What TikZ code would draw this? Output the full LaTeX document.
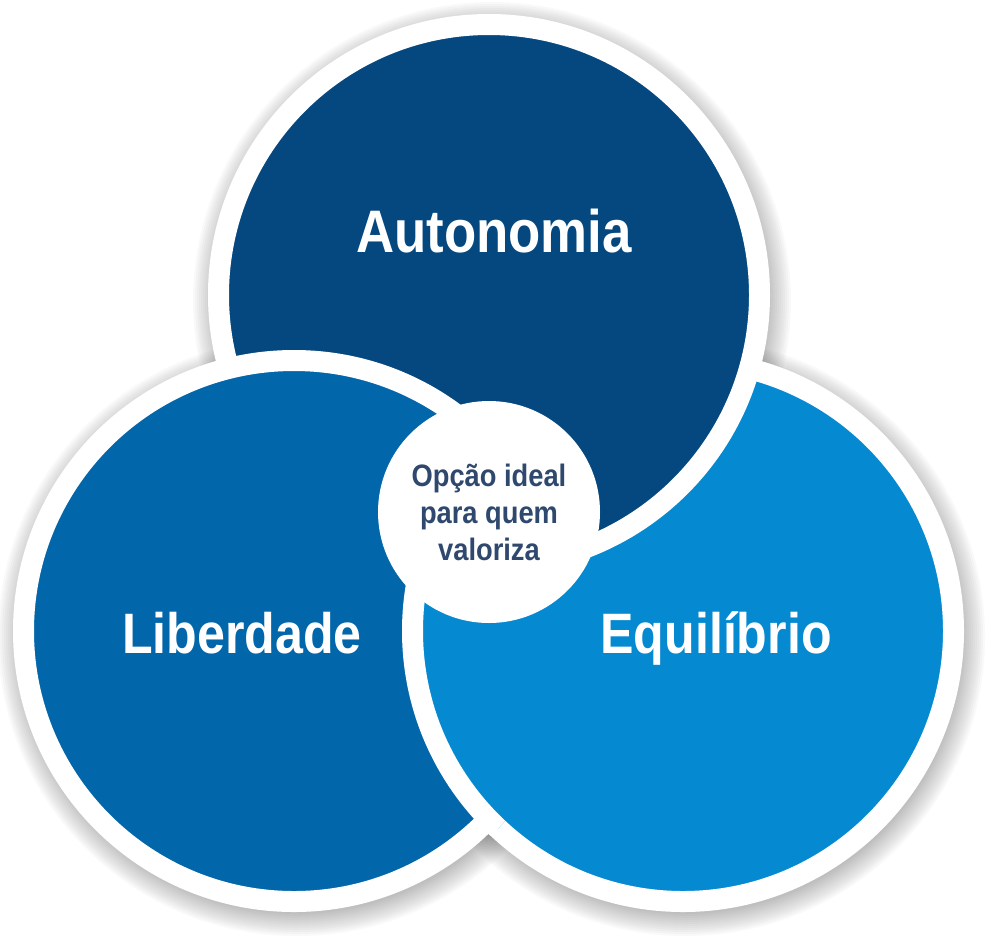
\documentclass[tikz,border=0pt]{standalone}
\usepackage{fontspec}
\newfontfamily\diagfont[FakeStretch=0.88]{Liberation Sans}
\usetikzlibrary{positioning}
\definecolor{navy}{HTML}{05487F}
\definecolor{midblue}{HTML}{0266AA}
\definecolor{lightblue}{HTML}{0589D1}
\definecolor{slate}{HTML}{2F486E}

\begin{document}
\begin{tikzpicture}[x=1pt, y=1pt,
    bigcircle/.style={circle, draw=white, line width=21pt, minimum size=541pt, inner sep=0pt},
    bigword/.style={text=white, anchor=base, font=\diagfont\bfseries\fontsize{#1}{#1}\selectfont},
    bigword/.default=57]
           \useasboundingbox (0,0) rectangle (1000,-948);
           % soft shadows under the rings
           \foreach \x/\y in {489/-295, 294/-631, 683/-631}
             \foreach \k in {0,...,11}
               \fill[black, opacity=0.022] (\x+3,\y-6) circle (277+2*\k);
           % each circle lies over the next one round the ring
           \node [bigcircle, fill=lightblue] (Equ) at (683,-631) {};
           \node [bigcircle, fill=navy] (Aut) at (489,-295) {};
           \node [bigcircle, fill=midblue] (Lib) at (294,-631) {};
           \begin{scope}
             \clip (Lib.center) circle (284);
             \node [bigcircle, fill=lightblue] (EquOver) at (Equ.center) {};
           \end{scope}
           \node [circle, fill=white, minimum size=222pt, inner sep=0pt, align=center, text=slate,
                  font=\diagfont\bfseries\fontsize{31}{37}\selectfont] (Opc) at (489,-512) {Opção ideal\\para quem\\valoriza};
           \node [bigword=60] (AutText) at (494,-252) {Autonomia};
           \node [bigword] (LibText) at (242,-653) {Liberdade};
           \node [bigword] (EquText) at (716,-653) {Equilíbrio};
      \end{tikzpicture}
\end{document}
